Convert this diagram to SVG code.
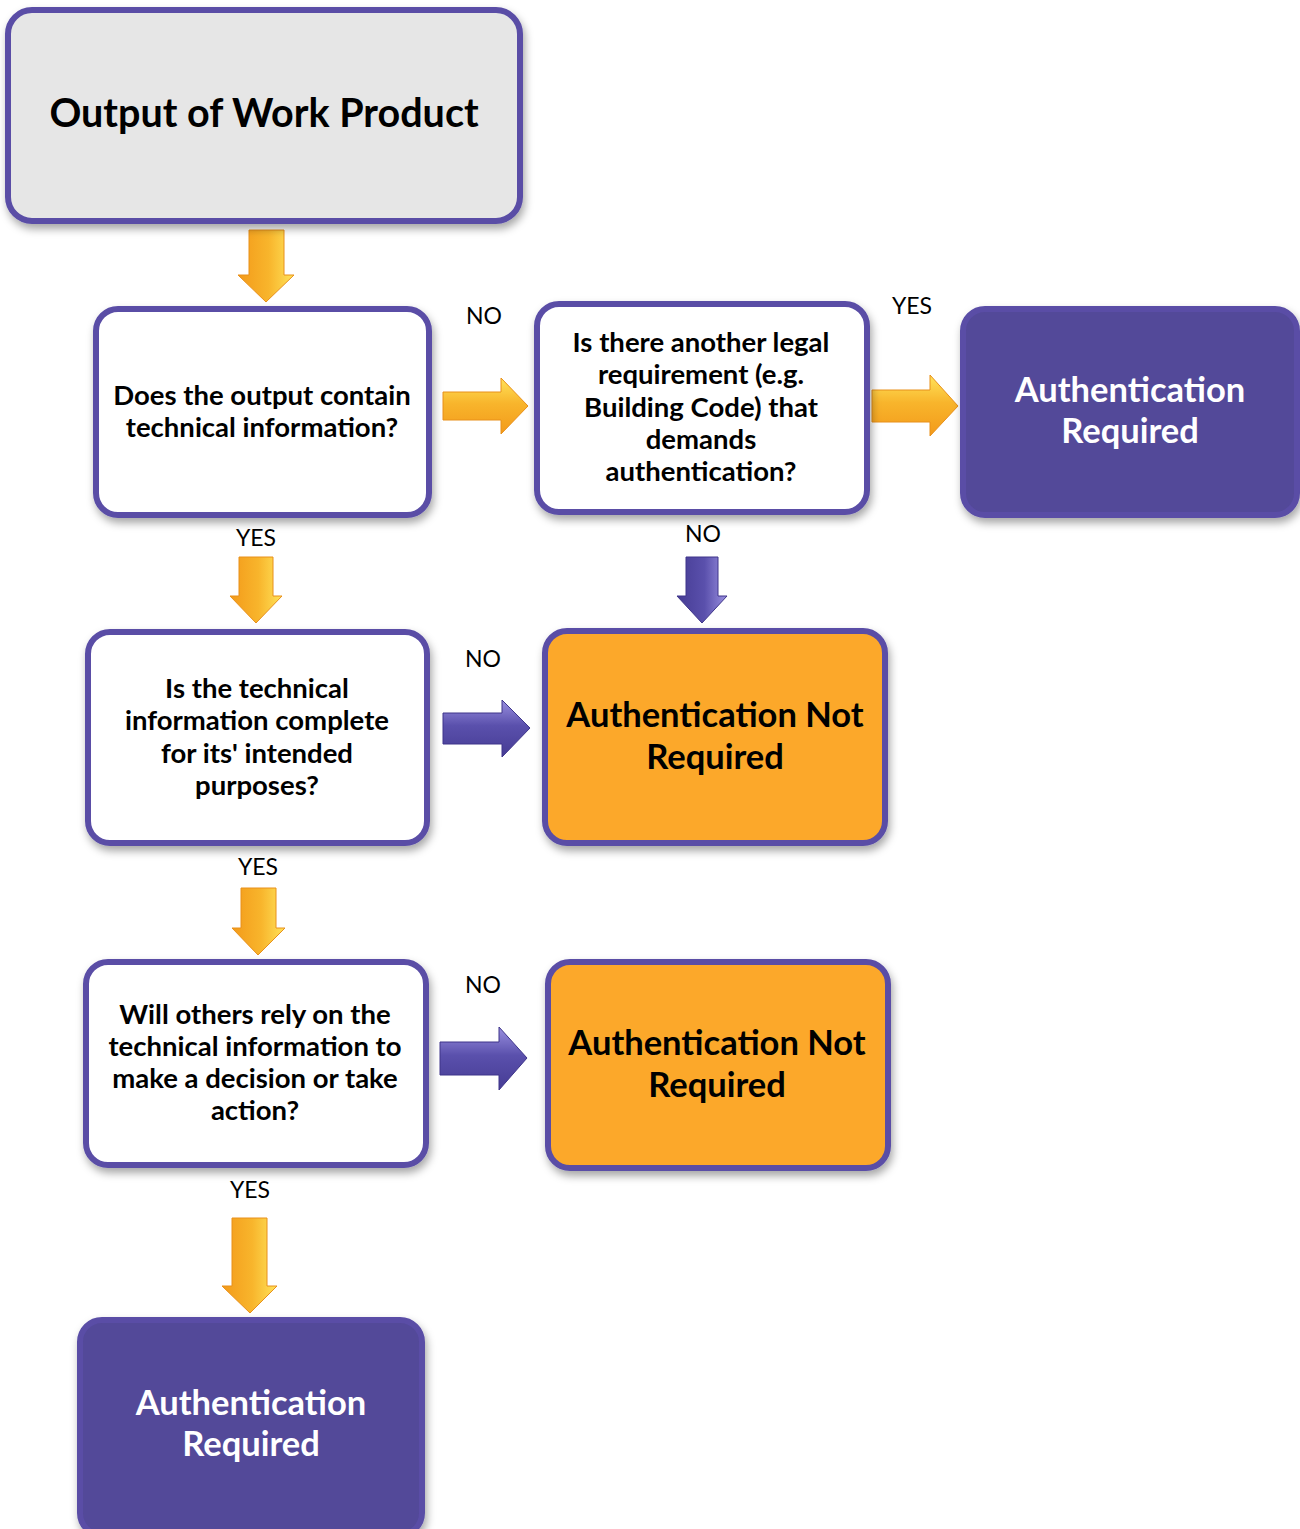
<svg xmlns="http://www.w3.org/2000/svg" width="1300" height="1529" viewBox="0 0 1300 1529">
<defs>
<filter id="sh" x="-10%" y="-10%" width="120%" height="125%">
<feDropShadow dx="2" dy="5" stdDeviation="4" flood-color="#000" flood-opacity="0.35"/>
</filter>
<linearGradient id="gov" x1="0" y1="0" x2="1" y2="0">
<stop offset="0" stop-color="#f39a1a"/><stop offset="0.55" stop-color="#f8b52c"/><stop offset="1" stop-color="#ffe35a"/>
</linearGradient>
<linearGradient id="goh" x1="0" y1="0" x2="0" y2="1">
<stop offset="0" stop-color="#ffe35a"/><stop offset="0.45" stop-color="#f8b52c"/><stop offset="1" stop-color="#f39a1a"/>
</linearGradient>
<linearGradient id="gpv" x1="0" y1="0" x2="1" y2="0">
<stop offset="0" stop-color="#463c94"/><stop offset="0.55" stop-color="#5a50ac"/><stop offset="1" stop-color="#9a90e0"/>
</linearGradient>
<linearGradient id="gph" x1="0" y1="0" x2="0" y2="1">
<stop offset="0" stop-color="#9a90e0"/><stop offset="0.45" stop-color="#5a50ac"/><stop offset="1" stop-color="#463c94"/>
</linearGradient>
<style>
.box{stroke:#5a4ea6;stroke-width:6;filter:url(#sh)}
.q{fill:#ffffff}
.start{fill:#e6e6e6}
.req{fill:#534899}
.nreq{fill:#fca82a}
.t{font-family:Lato,"Open Sans","Liberation Sans",sans-serif;font-weight:bold;text-anchor:middle}
.qt{font-size:27.5px;fill:#000}
.big{font-size:34.5px}
.w{fill:#fff}
.k{fill:#000}
.lbl{font-family:Lato,"Open Sans","Liberation Sans",sans-serif;font-size:23px;fill:#000;text-anchor:middle}
.ao{stroke:#e8901a;stroke-width:1}
.ap{stroke:#3e358a;stroke-width:1}
</style>
</defs>
<rect width="1300" height="1529" fill="#fff"/>

<g id="connectors">
<path class="ao" fill="url(#gov)" d="M249,230 H284 V275 H294 L266,302 L238,275 H249 Z"/>
<path class="ao" fill="url(#goh)" d="M443,392 H501 V378 L528,406 L501,434 V420 H443 Z"/>
<path class="ao" fill="url(#goh)" d="M872,390 H930 V375 L958,406 L930,436 V422 H872 Z"/>
<path class="ao" fill="url(#gov)" d="M239,557 H273 V596 H282 L256,623 L230,596 H239 Z"/>
<path class="ap" fill="url(#gpv)" d="M686,557 H718 V596 H727 L702,623 L677,596 H686 Z"/>
<path class="ap" fill="url(#gph)" d="M443,713 H502 V700 L530,728 L502,757 V744 H443 Z"/>
<path class="ao" fill="url(#gov)" d="M241,888 H276 V928 H285 L258,955 L232,928 H241 Z"/>
<path class="ap" fill="url(#gph)" d="M440,1042 H499 V1027 L527,1058 L499,1090 V1075 H440 Z"/>
<path class="ao" fill="url(#gov)" d="M232,1218 H267 V1286 H277 L250,1313 L222,1286 H232 Z"/>
<text class="lbl" x="484" y="324">NO</text>
<text class="lbl" x="912" y="314">YES</text>
<text class="lbl" x="256" y="546">YES</text>
<text class="lbl" x="703" y="542">NO</text>
<text class="lbl" x="483" y="667">NO</text>
<text class="lbl" x="258" y="875">YES</text>
<text class="lbl" x="483" y="993">NO</text>
<text class="lbl" x="250" y="1198">YES</text>
</g>

<g id="n-start">
<rect class="box start" x="8" y="10" width="512" height="211" rx="24"/>
<text class="t k" x="264" y="127" font-size="39.5">Output of Work Product</text>
</g>

<g id="n-q1">
<rect class="box q" x="96" y="309" width="333" height="206" rx="22"/>
<text class="t qt" x="262" y="405">Does the output contain</text>
<text class="t qt" x="262" y="437">technical information?</text>
</g>

<g id="n-q2">
<rect class="box q" x="537" y="304" width="330" height="208" rx="22"/>
<text class="t qt" x="701" y="352">Is there another legal</text>
<text class="t qt" x="701" y="384">requirement (e.g.</text>
<text class="t qt" x="701" y="417">Building Code) that</text>
<text class="t qt" x="701" y="449">demands</text>
<text class="t qt" x="701" y="481">authentication?</text>
</g>

<g id="n-req1">
<rect class="box req" x="963" y="309" width="334" height="206" rx="22"/>
<text class="t big w" x="1130" y="402">Authentication</text>
<text class="t big w" x="1130" y="443">Required</text>
</g>

<g id="n-q3">
<rect class="box q" x="88" y="632" width="339" height="211" rx="22"/>
<text class="t qt" x="257" y="698">Is the technical</text>
<text class="t qt" x="257" y="730">information complete</text>
<text class="t qt" x="257" y="763">for its' intended</text>
<text class="t qt" x="257" y="795">purposes?</text>
</g>

<g id="n-nreq1">
<rect class="box nreq" x="545" y="631" width="340" height="212" rx="22"/>
<text class="t big k" x="715" y="727">Authentication Not</text>
<text class="t big k" x="715" y="769">Required</text>
</g>

<g id="n-q4">
<rect class="box q" x="86" y="962" width="340" height="203" rx="22"/>
<text class="t qt" x="255" y="1024">Will others rely on the</text>
<text class="t qt" x="255" y="1056">technical information to</text>
<text class="t qt" x="255" y="1088">make a decision or take</text>
<text class="t qt" x="255" y="1120">action?</text>
</g>

<g id="n-nreq2">
<rect class="box nreq" x="548" y="962" width="340" height="206" rx="22"/>
<text class="t big k" x="717" y="1055">Authentication Not</text>
<text class="t big k" x="717" y="1097">Required</text>
</g>

<g id="n-req2">
<rect class="box req" x="80" y="1320" width="342" height="215" rx="22"/>
<text class="t big w" x="251" y="1415">Authentication</text>
<text class="t big w" x="251" y="1456">Required</text>
</g>
</svg>
